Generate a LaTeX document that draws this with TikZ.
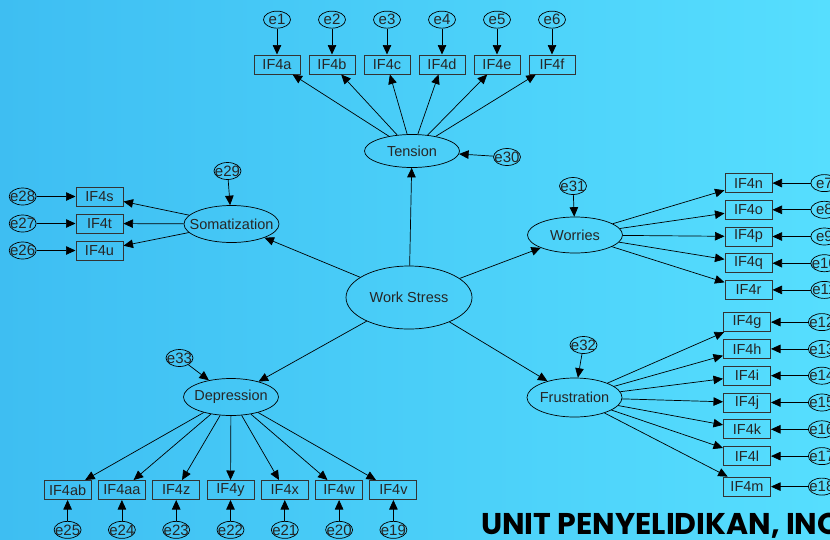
\documentclass[tikz,border=0pt]{standalone}
\usepackage{fontspec}
\setmainfont{Liberation Sans}
\newfontfamily\bannerfont{Poppins}
\usetikzlibrary{positioning,arrows.meta,shapes.geometric}
\definecolor{bgleft}{RGB}{62,190,242}
\definecolor{bgright}{RGB}{86,222,254}
\tikzset{
  >={Triangle[length=9.5pt,width=8.5pt]},
  myarrow/.style={draw, ->, line width=0.7pt},
}

\begin{document}
\begin{tikzpicture}[x=1pt,y=-1pt,node distance=7pt]
  \tikzset{
      every node/.style={font=\fontsize{14.5}{16}\selectfont, text=black!85},
      latent/.style={ellipse, draw=black, line width=0.7pt, minimum width=95pt, minimum height=37pt, inner xsep=-9pt, inner ysep=0pt},
      observed/.style={rectangle, draw=black!80, line width=1pt, minimum width=46pt, minimum height=19pt, inner sep=0pt},
      error/.style={ellipse, draw=black, line width=0.7pt, minimum width=27pt, minimum height=17pt, inner xsep=-3pt, inner ysep=0pt, font=\fontsize{15}{16}\selectfont},
      banner/.style={font=\bannerfont\bfseries\fontsize{30}{32}\selectfont, text=black, inner sep=0pt},
  }
  \useasboundingbox (0,0) rectangle (830,539);
  \clip (0,0) rectangle (830,539);
  \shade[left color=bgleft, right color=bgright] (0,0) rectangle (830,539);

  % latent variables
  \node[latent, minimum width=126pt, minimum height=63pt] (stress) at (409,297.5) {Work Stress};
  \node[latent, minimum height=33pt] (tension) at (412,151) {Tension};
  \node[latent] (somat) at (231.5,224) {Somatization};
  \node[latent, minimum height=36pt] (worries) at (575,235) {Worries};
  \node[latent, minimum height=39pt] (frustr) at (574.5,397.5) {Frustration};
  \node[latent] (depress) at (231,397) {Depression};

  % Tension
  \node[observed] (IF4a) at (277,64.5) {IF4a};
  \node[observed, right=8pt of IF4a] (IF4b) {IF4b};
  \node[observed, right=8pt of IF4b] (IF4c) {IF4c};
  \node[observed, right=8pt of IF4c] (IF4d) {IF4d};
  \node[observed, right=8pt of IF4d] (IF4e) {IF4e};
  \node[observed, right=8pt of IF4e] (IF4f) {IF4f};
    \node[error, above=26pt of IF4a] (e1) {e1};
    \node[error, above=26pt of IF4b] (e2) {e2};
    \node[error, above=26pt of IF4c] (e3) {e3};
    \node[error, above=26pt of IF4d] (e4) {e4};
    \node[error, above=26pt of IF4e] (e5) {e5};
    \node[error, above=26pt of IF4f] (e6) {e6};
  \node[error] (e30) at (507,157) {e30};

  % Somatization
  \node[observed, minimum width=47pt] (IF4t) at (99.5,223.5) {IF4t};
  \node[observed, minimum width=47pt, above=of IF4t] (IF4s) {IF4s};
  \node[observed, minimum width=47pt, below=of IF4t] (IF4u) {IF4u};
    \node[error, left=39pt of IF4s] (e28) {e28};
    \node[error, left=39pt of IF4t] (e27) {e27};
    \node[error, left=39pt of IF4u] (e26) {e26};
  \node[error] (e29) at (227.5,171) {e29};

  % Worries
  \node[observed, minimum width=47pt] (IF4p) at (748.5,236.5) {IF4p};
  \node[observed, minimum width=47pt, above=6.7pt of IF4p] (IF4o) {IF4o};
  \node[observed, minimum width=47pt, above=6.7pt of IF4o] (IF4n) {IF4n};
  \node[observed, minimum width=47pt, below=6.7pt of IF4p] (IF4q) {IF4q};
  \node[observed, minimum width=47pt, below=6.7pt of IF4q] (IF4r) {IF4r};
    \node[error, right=38pt of IF4n] (e7) {e7};
    \node[error, right=38pt of IF4o] (e8) {e8};
    \node[error, right=38pt of IF4p] (e9) {e9};
    \node[error, right=38pt of IF4q] (e10) {e10};
    \node[error, right=38pt of IF4r] (e11) {e11};
  \node[error] (e31) at (573,186) {e31};

  % Frustration
  \node[observed, minimum width=47pt] (IF4j) at (747,402.5) {IF4j};
  \node[observed, minimum width=47pt, above=6.8pt of IF4j] (IF4i) {IF4i};
  \node[observed, minimum width=47pt, above=6.8pt of IF4i] (IF4h) {IF4h};
  \node[observed, minimum width=47pt, above=6.8pt of IF4h] (IF4g) {IF4g};
  \node[observed, minimum width=47pt, below=6.8pt of IF4j] (IF4k) {IF4k};
  \node[observed, minimum width=47pt, below=6.8pt of IF4k] (IF4l) {IF4l};
  \node[observed, minimum width=47pt, below=10.5pt of IF4l] (IF4m) {IF4m};
    \node[error, right=37pt of IF4g] (e12) {e12};
    \node[error, right=37pt of IF4h] (e13) {e13};
    \node[error, right=37pt of IF4i] (e14) {e14};
    \node[error, right=37pt of IF4j] (e15) {e15};
    \node[error, right=37pt of IF4k] (e16) {e16};
    \node[error, right=37pt of IF4l] (e17) {e17};
    \node[error, right=37pt of IF4m] (e18) {e18};
  \node[error] (e32) at (583.5,345) {e32};

  % Depression
  \node[observed, minimum width=47pt] (IF4y) at (230.5,490) {IF4y};
  \node[observed, minimum width=47pt, left=6.3pt of IF4y] (IF4z) {IF4z};
  \node[observed, minimum width=47pt, left=6.3pt of IF4z] (IF4aa) {IF4aa};
  \node[observed, minimum width=47pt, left=6.3pt of IF4aa] (IF4ab) {IF4ab};
  \node[observed, minimum width=47pt, right=6.3pt of IF4y] (IF4x) {IF4x};
  \node[observed, minimum width=47pt, right=6.3pt of IF4x] (IF4w) {IF4w};
  \node[observed, minimum width=47pt, right=6.3pt of IF4w] (IF4v) {IF4v};
    \node[error, below=21pt of IF4ab] (e25) {e25};
    \node[error, below=21pt of IF4aa] (e24) {e24};
    \node[error, below=21pt of IF4z] (e23) {e23};
    \node[error, below=21pt of IF4y] (e22) {e22};
    \node[error, below=21pt of IF4x] (e21) {e21};
    \node[error, below=21pt of IF4w] (e20) {e20};
    \node[error, below=21pt of IF4v] (e19) {e19};
  \node[error] (e33) at (179.5,358) {e33};

  \node[banner, anchor=base west] (unit) at (481,534) {UNIT PENYELIDIKAN, INO};

  \path[myarrow] (stress) -- (tension);
  \path[myarrow] (stress) -- (somat);
  \path[myarrow] (stress) -- (worries);
  \path[myarrow] (stress) -- (frustr);
  \path[myarrow] (stress) -- (depress);

  \path[myarrow] (tension) -- (IF4a);
  \path[myarrow] (tension) -- (IF4b);
  \path[myarrow] (tension) -- (IF4c);
  \path[myarrow] (tension) -- (IF4d);
  \path[myarrow] (tension) -- (IF4e);
  \path[myarrow] (tension) -- (IF4f);
  \path[myarrow] (e1) -- (IF4a);
  \path[myarrow] (e2) -- (IF4b);
  \path[myarrow] (e3) -- (IF4c);
  \path[myarrow] (e4) -- (IF4d);
  \path[myarrow] (e5) -- (IF4e);
  \path[myarrow] (e6) -- (IF4f);
  \path[myarrow] (e30) -- (tension);

  \path[myarrow] (somat) -- (IF4s);
  \path[myarrow] (somat) -- (IF4t);
  \path[myarrow] (somat) -- (IF4u);
  \path[myarrow] (e28) -- (IF4s);
  \path[myarrow] (e27) -- (IF4t);
  \path[myarrow] (e26) -- (IF4u);
  \path[myarrow] (e29) -- (somat);

  \path[myarrow] (worries) -- (IF4n);
  \path[myarrow] (worries) -- (IF4o);
  \path[myarrow] (worries) -- (IF4p);
  \path[myarrow] (worries) -- (IF4q);
  \path[myarrow] (worries) -- (IF4r);
  \path[myarrow] (e7) -- (IF4n);
  \path[myarrow] (e8) -- (IF4o);
  \path[myarrow] (e9) -- (IF4p);
  \path[myarrow] (e10) -- (IF4q);
  \path[myarrow] (e11) -- (IF4r);
  \path[myarrow] (e31) -- (worries);

  \path[myarrow] (frustr) -- (IF4g);
  \path[myarrow] (frustr) -- (IF4h);
  \path[myarrow] (frustr) -- (IF4i);
  \path[myarrow] (frustr) -- (IF4j);
  \path[myarrow] (frustr) -- (IF4k);
  \path[myarrow] (frustr) -- (IF4l);
  \path[myarrow] (frustr) -- (IF4m);
  \path[myarrow] (e12) -- (IF4g);
  \path[myarrow] (e13) -- (IF4h);
  \path[myarrow] (e14) -- (IF4i);
  \path[myarrow] (e15) -- (IF4j);
  \path[myarrow] (e16) -- (IF4k);
  \path[myarrow] (e17) -- (IF4l);
  \path[myarrow] (e18) -- (IF4m);
  \path[myarrow] (e32) -- (frustr);

  \path[myarrow] (depress) -- (IF4ab);
  \path[myarrow] (depress) -- (IF4aa);
  \path[myarrow] (depress) -- (IF4z);
  \path[myarrow] (depress) -- (IF4y);
  \path[myarrow] (depress) -- (IF4x);
  \path[myarrow] (depress) -- (IF4w);
  \path[myarrow] (depress) -- (IF4v);
  \path[myarrow] (e25) -- (IF4ab);
  \path[myarrow] (e24) -- (IF4aa);
  \path[myarrow] (e23) -- (IF4z);
  \path[myarrow] (e22) -- (IF4y);
  \path[myarrow] (e21) -- (IF4x);
  \path[myarrow] (e20) -- (IF4w);
  \path[myarrow] (e19) -- (IF4v);
  \path[myarrow] (e33) -- (depress);

\end{tikzpicture}
\end{document}
